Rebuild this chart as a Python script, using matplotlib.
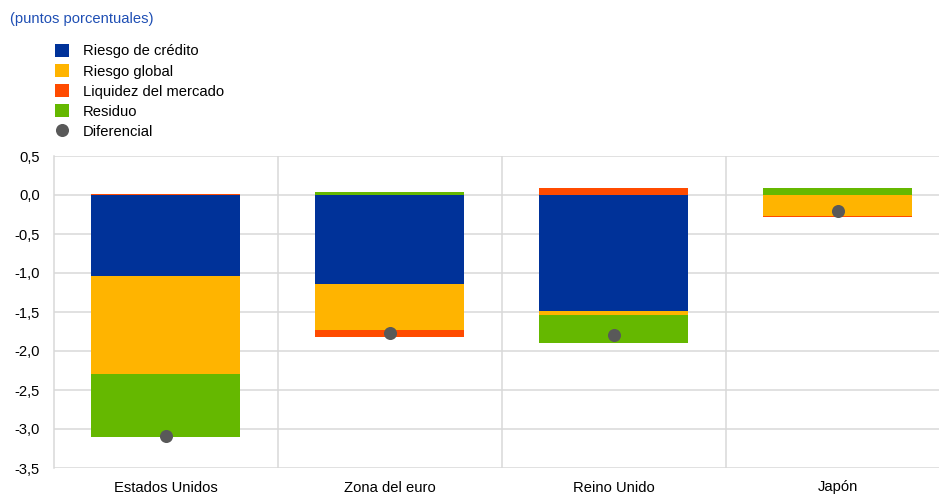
import matplotlib
matplotlib.use("Agg")
import matplotlib.pyplot as plt
from matplotlib.patches import Patch
from matplotlib.lines import Line2D
from matplotlib.ticker import FuncFormatter, MultipleLocator
import numpy as np

plt.rcParams['font.family'] = ['Liberation Sans', 'DejaVu Sans']

regions = ['Estados Unidos', 'Zona del euro', 'Reino Unido', 'Japón']
riesgo_credito = [-1.04, -1.145, -1.49, 0.0]
riesgo_global = [-1.25, -0.585, -0.05, -0.27]
liquidez = [0.01, -0.09, 0.09, -0.015]
residuo = [-0.81, 0.04, -0.36, 0.085]
diferencial = [-3.09, -1.77, -1.80, -0.20]

series = [
    ('Riesgo de crédito', riesgo_credito, '#003299'),
    ('Riesgo global', riesgo_global, '#ffb400'),
    ('Liquidez del mercado', liquidez, '#ff4b00'),
    ('Residuo', residuo, '#65b800'),
]
grid_col = '#d9d9d9'

fig = plt.figure(figsize=(9.39, 4.95), dpi=100)
ax = fig.add_axes([53.7 / 939, 1 - 468 / 495, 1 - 53.7 / 939, (468 - 156) / 495])

x = np.arange(len(regions))
pos_base = np.zeros(len(regions))
neg_base = np.zeros(len(regions))
for name, vals, col in series:
    v = np.array(vals)
    base = np.where(v >= 0, pos_base, neg_base)
    ax.bar(x, v, 0.665, bottom=base, color=col, zorder=2, linewidth=0)
    pos_base += np.where(v >= 0, v, 0)
    neg_base += np.where(v < 0, v, 0)

ax.plot(x, diferencial, 'o', color='#595959', markersize=9.4, zorder=3,
        markeredgewidth=0)

ax.set_ylim(-3.5, 0.5)
ax.set_xlim(-0.5, 3.452)
ax.yaxis.set_major_locator(MultipleLocator(0.5))
ax.yaxis.set_major_formatter(FuncFormatter(lambda v, p: f'{v:.1f}'.replace('.', ',')))
ax.yaxis.grid(True, color=grid_col, linewidth=1.1, zorder=0)
ax.set_axisbelow(True)
for xs in [0.5, 1.5, 2.5]:
    ax.axvline(xs, color=grid_col, linewidth=1.1, zorder=0)

ax.set_xticks(x)
ax.set_xticklabels(regions)
ax.tick_params(axis='both', length=0, labelsize=10.6, colors='#000000')
ax.tick_params(axis='y', pad=10)
ax.tick_params(axis='x', pad=9)
for s in ['top', 'right', 'bottom']:
    ax.spines[s].set_visible(False)
ax.spines['left'].set_color(grid_col)
ax.spines['left'].set_linewidth(1.1)

fig.text(10 / 939, 1 - 19 / 495, '(puntos porcentuales)', color='#1f4fb4',
         fontsize=10.6, va='center', ha='left')

handles = [Patch(facecolor=c, edgecolor='none') for _, _, c in series]
handles.append(Line2D([], [], marker='o', linestyle='none', color='#595959',
                      markersize=9.4, markeredgewidth=0))
labels = [n for n, _, _ in series] + ['Diferencial']
fig.legend(handles, labels, loc='upper left',
           bbox_to_anchor=(55 / 939, 1 - 44 / 495), frameon=False,
           fontsize=10.6, handlelength=0.95, handleheight=0.95,
           handletextpad=0.95, labelspacing=0.39, borderpad=0,
           borderaxespad=0)

fig.savefig('out.png', dpi=100)
